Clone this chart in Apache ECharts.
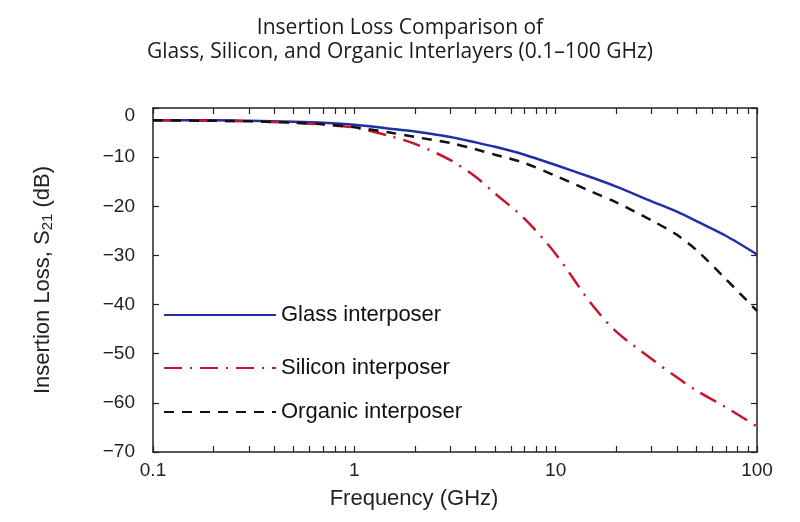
<!DOCTYPE html>
<html>
<head>
<meta charset="utf-8">
<script src="https://cdn.jsdelivr.net/npm/echarts@6/dist/echarts.min.js"></script>
<style>
  html, body { margin: 0; background: #fff; }
  #main { width: 800px; height: 522px; }
</style>
</head>
<body>
<div id="main"></div>
<script>
// frequency points (GHz)
let freq = [0.1, 0.2, 0.3, 0.5, 0.7, 1, 1.5, 2, 3, 4, 5, 7, 10, 15, 20, 30, 40, 50, 70, 100];
let glass = [-2.5, -2.5, -2.6, -2.8, -3.0, -3.4, -4.2, -4.8, -5.9, -7.0, -7.9, -9.5, -11.6, -14.1, -16.0, -19.0, -21.1, -23.0, -26.0, -29.8];
let silicon = [-2.5, -2.6, -2.7, -3.0, -3.4, -4.0, -5.7, -7.3, -10.6, -14.0, -17.4, -22.5, -29.7, -39.8, -45.5, -51.1, -54.8, -57.5, -60.9, -64.8];
let organic = [-2.5, -2.6, -2.7, -3.0, -3.3, -3.9, -5.0, -5.9, -7.1, -8.4, -9.5, -11.2, -13.8, -17.0, -19.2, -22.9, -25.8, -28.9, -34.8, -41.3];

let seriesNames = ["Glass interposer", "Silicon interposer", "Organic interposer"];
let xMajorTicks = [0.1, 1, 10, 100];
let xAllTicks = [0.1, 0.2, 0.3, 0.4, 0.5, 0.6, 0.7, 0.8, 0.9, 1, 2, 3, 4, 5, 6, 7, 8, 9, 10,
  20, 30, 40, 50, 60, 70, 80, 90, 100];

function pairs(values) {
  let out = [];
  for (let i = 0; i < freq.length; i++) {
    out.push([freq[i], values[i]]);
  }
  return out;
}

let font = "Liberation Sans";
let myChart = echarts.init(document.getElementById("main"));

// one legend box per row so the rows sit where the picture has them
let legendTops = [304, 357, 401];
let legends = [];
for (let i = 0; i < seriesNames.length; i++) {
  legends.push({
    data: [seriesNames[i]],
    left: 163,
    top: legendTops[i],
    padding: 0,
    itemWidth: 112,
    itemHeight: 14,
    itemStyle: { opacity: 0 },
    textStyle: { fontFamily: font, fontSize: 22, color: "#111" },
  });
}

let tickStyle = { color: "#222", width: 1.2 };

let option = {
  backgroundColor: "#fff",
  animation: false,
  title: {
    text: "Insertion Loss Comparison of\nGlass, Silicon, and Organic Interlayers (0.1–100 GHz)",
    left: "center",
    top: 11,
    textStyle: {
      fontFamily: "Open Sans",
      fontSize: 21,
      lineHeight: 24,
      fontWeight: "normal",
      color: "#1a1a1a",
    },
  },
  legend: legends,
  grid: { left: 153, right: 43, top: 108, bottom: 70 },
  xAxis: [
    {
      type: "log",
      logBase: 10,
      min: 0.1,
      max: 100,
      position: "bottom",
      name: "Frequency (GHz)",
      nameLocation: "middle",
      nameGap: 36,
      nameTextStyle: { fontFamily: font, fontSize: 22, color: "#222", padding: [0, 82, 0, 0] },
      axisLine: { onZero: false, lineStyle: { color: "#222", width: 1.5 } },
      axisTick: { show: true, inside: true, length: 6, customValues: xAllTicks, lineStyle: tickStyle },
      axisLabel: {
        customValues: xMajorTicks,
        fontFamily: font,
        fontSize: 19,
        color: "#222",
        margin: 9,
        formatter: (v) => String(v),
      },
      splitLine: { show: false },
    },
    {
      type: "log",
      logBase: 10,
      min: 0.1,
      max: 100,
      position: "top",
      axisLine: { onZero: false, lineStyle: { color: "#222", width: 1.5 } },
      axisTick: { show: true, inside: true, length: 6, customValues: xAllTicks, lineStyle: tickStyle },
      axisLabel: { show: false },
      splitLine: { show: false },
    },
  ],
  yAxis: [
    {
      type: "value",
      min: -70,
      max: 0,
      interval: 10,
      position: "left",
      name: "Insertion Loss, S{sub|21} (dB)",
      nameLocation: "middle",
      nameGap: 98,
      nameTextStyle: {
        fontFamily: font,
        fontSize: 22,
        color: "#222",
        rich: {
          sub: { fontFamily: font, fontSize: 15, color: "#222", padding: [9, 0, 0, 0] },
        },
      },
      axisLine: { show: true, onZero: false, lineStyle: { color: "#222", width: 1.5 } },
      axisTick: { show: true, inside: true, length: 6, lineStyle: tickStyle },
      axisLabel: {
        fontFamily: font,
        fontSize: 19,
        color: "#222",
        margin: 18,
        formatter: (v) => (v === 0 ? "{z|0}" : String(v).replace("-", "\u2212")),
        rich: {
          z: { fontFamily: font, fontSize: 19, color: "#222", padding: [16, 0, 0, 0] },
        },
      },
      splitLine: { show: false },
    },
    {
      type: "value",
      min: -70,
      max: 0,
      interval: 10,
      position: "right",
      axisLine: { show: true, onZero: false, lineStyle: { color: "#222", width: 1.5 } },
      axisTick: { show: true, inside: true, length: 6, lineStyle: tickStyle },
      axisLabel: { show: false },
      splitLine: { show: false },
    },
  ],
  series: [
    {
      name: seriesNames[0],
      type: "line",
      smooth: 0.3,
      symbol: "none",
      data: pairs(glass),
      lineStyle: { color: "#1f2fa8", width: 2.5, type: "solid" },
      itemStyle: { color: "#1f2fa8" },
    },
    {
      name: seriesNames[1],
      type: "line",
      smooth: 0.3,
      symbol: "none",
      data: pairs(silicon),
      lineStyle: { color: "#c8142e", width: 2.5, type: [18, 8, 2, 8] },
      itemStyle: { color: "#c8142e" },
    },
    {
      name: seriesNames[2],
      type: "line",
      smooth: 0.3,
      symbol: "none",
      data: pairs(organic),
      lineStyle: { color: "#111", width: 2.5, type: [10, 8] },
      itemStyle: { color: "#111" },
    },
  ],
};

myChart.setOption(option);
</script>
</body>
</html>
